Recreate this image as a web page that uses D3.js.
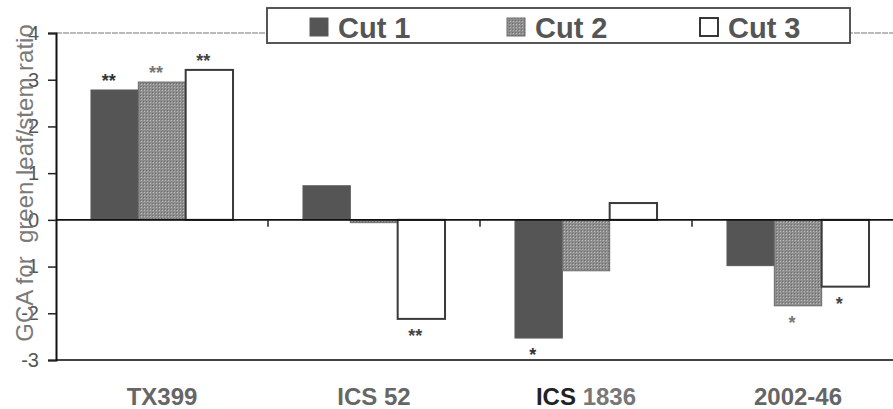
<!DOCTYPE html>
<html>
<head>
<meta charset="utf-8">
<script src="https://cdn.jsdelivr.net/npm/d3@7"></script>
<style>
  html, body { margin: 0; padding: 0; background: #fff; }
  svg { display: block; font-family: "Liberation Sans", Arial, sans-serif; }
</style>
</head>
<body>
<svg id="chart" width="893" height="409"></svg>
<script>
const categories = ["TX399", "ICS 52", "ICS 1836", "2002-46"];
const seriesNames = ["Cut 1", "Cut 2", "Cut 3"];
const cut1 = [2.78, 0.73, -2.53, -0.98];
const cut2 = [2.95, -0.06, -1.09, -1.84];
const cut3 = [3.21, -2.12, 0.36, -1.43];
const stars1 = ["**", "", "*", ""];
const stars2 = ["**", "", "", "*"];
const stars3 = ["**", "**", "", "*"];
const yTicks = [4, 3, 2, 1, 0, -1, -2, -3];
const yTitle = "GCA for  green leaf/stem ratio";

(function () {
const seriesValues = [cut1, cut2, cut3];
const seriesStars = [stars1, stars2, stars3];

const svg = d3.select("#chart");
const W = 893;
const mLeft = 56, mTop = 33, mBottom = 360;

// patterns
const defs = svg.append("defs");
const p = defs.append("pattern").attr("id", "stipple").attr("patternUnits", "userSpaceOnUse")
  .attr("width", 3).attr("height", 3);
p.append("rect").attr("width", 3).attr("height", 3).attr("fill", "#8e8e8e");
p.append("rect").attr("x", 0).attr("y", 0).attr("width", 1).attr("height", 1).attr("fill", "#b8b8b8");
p.append("rect").attr("x", 2).attr("y", 2).attr("width", 1).attr("height", 1).attr("fill", "#6e6e6e");

const fills = ["#555555", "url(#stipple)", "#ffffff"];
const strokes = ["#5a5a5a", "#6a6a6a", "#3a3a3a"];
const strokeW = [1, 1, 2];
const starColors = ["#333", "#777", "#444"];

const x = d3.scaleBand().domain(categories).range([mLeft, mLeft + 4 * 212])
  .paddingInner(0.33).paddingOuter(0.165);
const xs = d3.scaleBand().domain(seriesNames).range([0, x.bandwidth()]).padding(0);
const y = d3.scaleLinear().domain([-3, 4]).range([mBottom, mTop]);

// frame lines
svg.append("line").attr("x1", mLeft).attr("x2", W).attr("y1", y(4)).attr("y2", y(4))
  .attr("stroke", "#777").attr("stroke-width", 1.2).attr("stroke-dasharray", "6,1");
svg.append("line").attr("x1", mLeft).attr("x2", W).attr("y1", y(-3)).attr("y2", y(-3))
  .attr("stroke", "#444").attr("stroke-width", 2);

// bars
categories.forEach((c, i) => {
  seriesNames.forEach((s, j) => {
    const v = seriesValues[j][i];
    svg.append("rect")
      .attr("x", x(c) + xs(s))
      .attr("y", y(Math.max(0, v)))
      .attr("width", xs.bandwidth())
      .attr("height", Math.abs(y(v) - y(0)))
      .attr("fill", fills[j])
      .attr("stroke", strokes[j])
      .attr("stroke-width", strokeW[j]);
  });
});

// zero line
svg.append("line").attr("x1", mLeft).attr("x2", W).attr("y1", y(0)).attr("y2", y(0))
  .attr("stroke", "#111").attr("stroke-width", 1.6);

// x ticks at band boundaries on zero line
categories.forEach((c, i) => {
  if (i === 0) return;
  const bx = x(c) - x.step() * x.paddingInner() / 2;
  svg.append("line").attr("x1", bx).attr("x2", bx).attr("y1", y(0)).attr("y2", y(0) + 7)
    .attr("stroke", "#222").attr("stroke-width", 1.5);
});

// stars
categories.forEach((c, i) => {
  seriesNames.forEach((s, j) => {
    const st = seriesStars[j][i];
    if (!st) return;
    const v = seriesValues[j][i];
    const cx = x(c) + xs(s) + xs.bandwidth() / 2 - 6;
    const cy = v >= 0 ? y(v) - 13 : y(v) + 13;
    svg.append("text").attr("x", cx).attr("y", cy + 10)
      .attr("text-anchor", "middle").attr("font-size", 18).attr("font-weight", "bold")
      .attr("fill", starColors[j]).text(st);
  });
});

// y axis
const yAxis = d3.axisLeft(y).tickValues(yTicks).tickSize(8).tickPadding(9)
  .tickFormat(d => String(d));
const ga = svg.append("g").attr("transform", `translate(${mLeft},0)`).call(yAxis);
ga.select(".domain").attr("stroke", "#111").attr("stroke-width", 2);
ga.selectAll(".tick line").attr("stroke", "#222").attr("stroke-width", 1.5);
ga.selectAll(".tick text").attr("font-size", 20).attr("fill", "#555")
  .attr("font-family", "Liberation Sans, Arial, sans-serif");

// y title
svg.append("text")
  .attr("transform", `translate(33,183) rotate(-90)`)
  .attr("text-anchor", "middle")
  .attr("font-size", 24)
  .attr("fill", "#7a7a7a")
  .style("white-space", "pre")
  .text(yTitle);

// category labels
categories.forEach((c) => {
  const t = svg.append("text").attr("x", x(c) + x.bandwidth() / 2).attr("y", 405)
    .attr("text-anchor", "middle").attr("font-size", 24).attr("font-weight", "bold")
    .attr("fill", "#666");
  if (c === "ICS 1836") {
    const parts = c.split(" ");
    t.append("tspan").attr("fill", "#222").text(parts[0] + " ");
    t.append("tspan").attr("fill", "#777").text(parts[1]);
  } else {
    t.text(c);
  }
});

// legend
const lg = svg.append("g");
lg.append("rect").attr("x", 267).attr("y", 8).attr("width", 583).attr("height", 35)
  .attr("fill", "#fff").attr("stroke", "#444").attr("stroke-width", 1.8);
const legX = [310, 507, 700];
seriesNames.forEach((s, j) => {
  lg.append("rect").attr("x", legX[j]).attr("y", 18).attr("width", 18).attr("height", 18)
    .attr("fill", fills[j]).attr("stroke", j === 2 ? "#222" : strokes[j]).attr("stroke-width", j === 2 ? 1.8 : 1);
  lg.append("text").attr("x", legX[j] + 28).attr("y", 38)
    .attr("font-size", 29).attr("font-weight", "bold").attr("fill", "#555").text(s);
});
})();
</script>
</body>
</html>
